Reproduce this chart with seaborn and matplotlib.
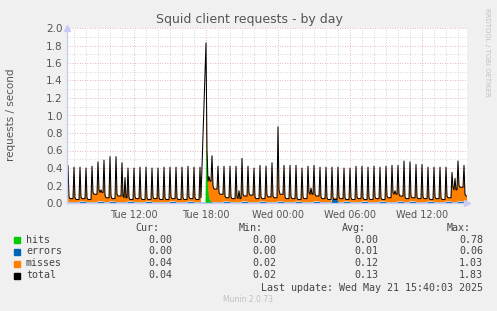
import numpy as np
import matplotlib
matplotlib.use("Agg")
import matplotlib.pyplot as plt
from matplotlib.patches import Rectangle
from matplotlib.ticker import MultipleLocator
import seaborn as sns

# one value per 30-minute cycle (Tue 06:30 .. Wed 15:30), requests / second
total_peak = [0.43, 0.41, 0.41, 0.40, 0.42, 0.47, 0.49, 0.53, 0.53, 0.46,
              0.40, 0.40, 0.41, 0.41, 0.40, 0.40, 0.41, 0.41, 0.41, 0.41,
              0.42, 0.41, 0.41, 1.83, 0.54, 0.42, 0.42, 0.42, 0.42, 0.51,
              0.42, 0.40, 0.43, 0.42, 0.46, 0.87, 0.43, 0.43, 0.43, 0.40,
              0.42, 0.43, 0.41, 0.41, 0.41, 0.41, 0.40, 0.40, 0.42, 0.42,
              0.41, 0.42, 0.41, 0.42, 0.43, 0.43, 0.48, 0.47, 0.44, 0.44,
              0.41, 0.41, 0.41, 0.41, 0.35, 0.48, 0.43]
total_after = [0.07, 0.06, 0.07, 0.06, 0.12, 0.15, 0.09, 0.08, 0.10, 0.08,
               0.06, 0.07, 0.06, 0.06, 0.07, 0.06, 0.06, 0.07, 0.06, 0.06,
               0.07, 0.06, 0.06, 0.60, 0.20, 0.12, 0.08, 0.07, 0.07, 0.10,
               0.11, 0.07, 0.07, 0.09, 0.08, 0.15, 0.07, 0.07, 0.06, 0.07,
               0.12, 0.10, 0.07, 0.06, 0.06, 0.07, 0.06, 0.06, 0.07, 0.06,
               0.06, 0.07, 0.06, 0.08, 0.12, 0.10, 0.07, 0.08, 0.07, 0.07,
               0.06, 0.07, 0.06, 0.08, 0.18, 0.20, 0.10]
total_low = [0.05, 0.04, 0.05, 0.04, 0.10, 0.12, 0.06, 0.05, 0.08, 0.06,
             0.04, 0.05, 0.04, 0.04, 0.05, 0.04, 0.04, 0.05, 0.04, 0.04,
             0.05, 0.04, 0.04, 0.25, 0.16, 0.10, 0.06, 0.05, 0.05, 0.08,
             0.09, 0.05, 0.05, 0.07, 0.06, 0.10, 0.05, 0.05, 0.04, 0.05,
             0.10, 0.08, 0.05, 0.04, 0.04, 0.05, 0.04, 0.04, 0.05, 0.04,
             0.04, 0.05, 0.04, 0.06, 0.10, 0.08, 0.05, 0.06, 0.05, 0.05,
             0.04, 0.05, 0.04, 0.06, 0.15, 0.18, 0.08]
total_mid = [0.05, 0.04, 0.05, 0.04, 0.10, 0.15, 0.06, 0.05, 0.08, 0.29,
             0.04, 0.05, 0.04, 0.04, 0.05, 0.04, 0.04, 0.05, 0.04, 0.04,
             0.05, 0.04, 0.04, 0.30, 0.16, 0.10, 0.06, 0.05, 0.14, 0.08,
             0.09, 0.05, 0.05, 0.07, 0.06, 0.10, 0.05, 0.05, 0.04, 0.05,
             0.17, 0.08, 0.05, 0.04, 0.04, 0.05, 0.04, 0.04, 0.05, 0.04,
             0.04, 0.05, 0.04, 0.06, 0.14, 0.08, 0.05, 0.06, 0.05, 0.05,
             0.04, 0.05, 0.04, 0.06, 0.28, 0.18, 0.08]
errors = [0.01, 0.01, 0.02, 0.01, 0.01, 0.02, 0.01, 0.02, 0.01, 0.01,
          0.02, 0.01, 0.01, 0.02, 0.01, 0.01, 0.01, 0.02, 0.01, 0.01,
          0.02, 0.01, 0.01, 0.02, 0.01, 0.01, 0.02, 0.01, 0.01, 0.02,
          0.01, 0.01, 0.02, 0.01, 0.01, 0.02, 0.01, 0.01, 0.02, 0.01,
          0.01, 0.02, 0.01, 0.01, 0.06, 0.01, 0.02, 0.01, 0.01, 0.02,
          0.01, 0.01, 0.02, 0.01, 0.01, 0.02, 0.01, 0.02, 0.01, 0.01,
          0.02, 0.01, 0.01, 0.02, 0.01, 0.02, 0.01]
hits_burst = [0.78, 0.40, 0.15, 0.05, 0.02, 0.00]  # cycle starting Tue 18:00
hits_cycle = 23
gap_cycle = 22  # no data Tue 17:40 - 17:55

tick_hours = [12, 18, 24, 30, 36]
tick_labels = ["Tue 12:00", "Tue 18:00", "Wed 00:00", "Wed 06:00", "Wed 12:00"]

legend_names = ["hits", "errors", "misses", "total"]
legend_colors = ["#00CC00", "#0066B3", "#FF8000", "#000000"]
cur_vals = ["0.00", "0.00", "0.04", "0.04"]
min_vals = ["0.00", "0.00", "0.02", "0.02"]
avg_vals = ["0.00", "0.01", "0.12", "0.13"]
max_vals = ["0.78", "0.06", "1.03", "1.83"]

# build 5-minute samples
tot, err, hit = [], [], []
for i in range(len(total_peak)):
    tot += [total_peak[i], total_after[i], total_low[i], total_mid[i], total_low[i], total_low[i]]
    err += [errors[i]] * 6
    hit += hits_burst if i == hits_cycle else [0.0] * 6
tot = np.array(tot)
err = np.array(err)
hit = np.array(hit)
tot[gap_cycle * 6 + 2: gap_cycle * 6 + 6] = np.nan
mis = tot - err - hit
hours = 6.5 + np.arange(len(tot)) * 5 / 60.0

sns.set_style("white")
plt.rcParams["font.family"] = ["DejaVu Sans"]

fig = plt.figure(figsize=(4.97, 3.11), dpi=100, facecolor="#F0F0F0")
ax = fig.add_axes([67 / 497, 1 - 203 / 311, 400 / 497, 175 / 311])
ax.set_facecolor("white")

ax.fill_between(hours, 0, hit, color=legend_colors[0], lw=0)
ax.fill_between(hours, hit, hit + err, color=legend_colors[1], lw=0)
ax.fill_between(hours, hit + err, hit + err + mis, color=legend_colors[2], lw=0)
sns.lineplot(x=hours, y=tot, ax=ax, color="black", lw=0.75)

ax.set_xlim(6 + 25 / 60, 39.75)
ax.set_ylim(0, 2.0)
ax.yaxis.set_major_locator(MultipleLocator(0.2))
ax.yaxis.set_minor_locator(MultipleLocator(0.1))
ax.set_yticklabels([f"{v:.1f}" for v in ax.get_yticks()])
ax.set_xticks(tick_hours)
ax.set_xticklabels(tick_labels)
ax.xaxis.set_minor_locator(MultipleLocator(1))
ax.grid(which="major", color="#E0A0A0", ls=(0, (1, 2)), lw=0.6)
ax.grid(which="minor", color="#C8C8C8", ls=(0, (1, 2)), lw=0.6)
ax.set_axisbelow(True)
ax.tick_params(which="both", length=2, color="#E0A0A0", labelsize=7, labelcolor="#555555", pad=3)
ax.tick_params(axis="y", length=0, labelsize=7.5)

for s in ["top", "right"]:
    ax.spines[s].set_visible(False)
for s in ["left", "bottom"]:
    ax.spines[s].set_color("#C8CCF4")
    ax.spines[s].set_linewidth(1.0)
ax.plot(1, 0, ">", transform=ax.transAxes, color="#C8CCF4", ms=5, clip_on=False)
ax.plot(0, 1, "^", transform=ax.transAxes, color="#C8CCF4", ms=5, clip_on=False)

fig.text(11 / 497, 1 - 115 / 311, "requests / second", rotation=90, ha="center", va="center",
         fontsize=7.5, color="#555555")
fig.text(249 / 497, 1 - 19 / 311, "Squid client requests - by day", ha="center", va="center",
         fontsize=9, color="#555555")
fig.text(487 / 497, 1 - 52 / 311, "RRDTOOL / TOBI OETIKER", rotation=270, ha="center", va="center",
         fontsize=5, color="#C0C0C0")

mono = "DejaVu Sans Mono"
ys = [240, 251.5, 263.5, 275.5]
for x_right, head in [(159, "Cur:"), (263, "Min:"), (366, "Avg:"), (471, "Max:")]:
    fig.text(x_right / 497, 1 - 228 / 311, head, ha="right", va="center", family=mono,
             fontsize=7.2, color="#444444")
for k, name in enumerate(legend_names):
    y = 1 - ys[k] / 311
    fig.patches.append(Rectangle((14 / 497, y - 3 / 311), 6 / 497, 6 / 311,
                                 transform=fig.transFigure, color=legend_colors[k]))
    fig.text(26 / 497, y, name, ha="left", va="center", family=mono, fontsize=7.2, color="#444444")
    for x_right, col in [(172, cur_vals), (276, min_vals), (378, avg_vals), (483, max_vals)]:
        fig.text(x_right / 497, y, col[k], ha="right", va="center", family=mono,
                 fontsize=7.2, color="#444444")
fig.text(483 / 497, 1 - 288 / 311, "Last update: Wed May 21 15:40:03 2025", ha="right", va="center",
         family=mono, fontsize=7.2, color="#444444")
fig.text(248 / 497, 1 - 300 / 311, "Munin 2.0.73", ha="center", va="center", fontsize=5.5, color="#C0C0C0")

fig.savefig("out.png", dpi=100, facecolor=fig.get_facecolor())
